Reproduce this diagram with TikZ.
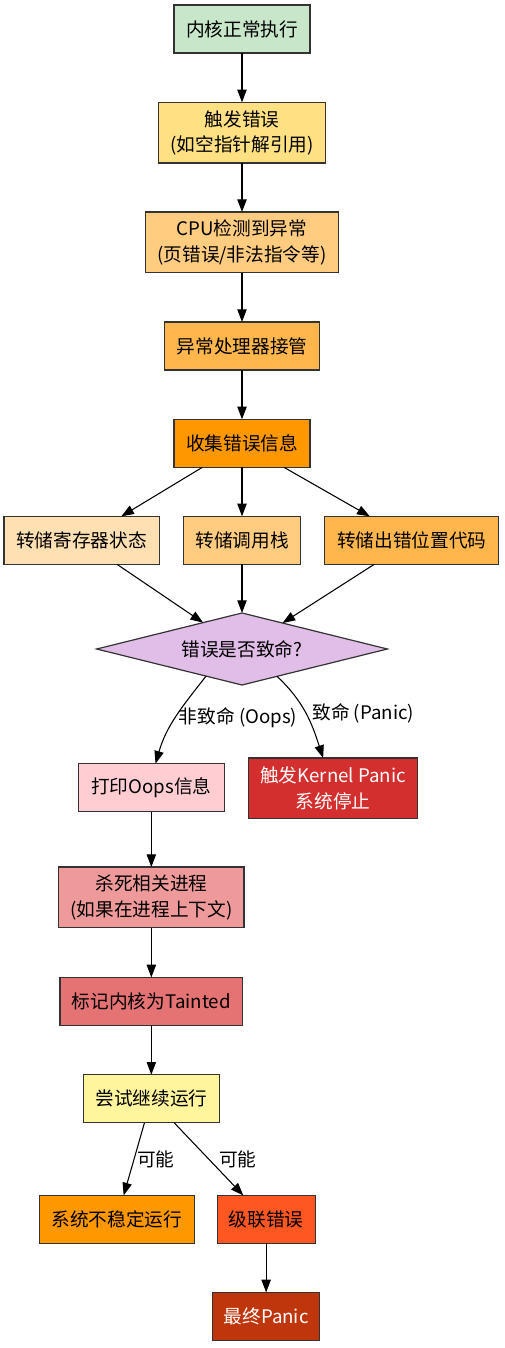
\documentclass[tikz,border=0pt]{standalone}
\usepackage{fontspec}
\setmainfont{Noto Sans CJK SC}
\usetikzlibrary{arrows.meta, positioning, shapes.geometric}

\definecolor{runok}{HTML}{C8E6C9}
\definecolor{faultc}{HTML}{FFE082}
\definecolor{cpuc}{HTML}{FFCC80}
\definecolor{handlerc}{HTML}{FFB74D}
\definecolor{collectc}{HTML}{FF9800}
\definecolor{regsc}{HTML}{FFE0B2}
\definecolor{fatalc}{HTML}{E1BEE7}
\definecolor{oopsc}{HTML}{FFCDD2}
\definecolor{panicc}{HTML}{D32F2F}
\definecolor{killc}{HTML}{EF9A9A}
\definecolor{taintc}{HTML}{E57373}
\definecolor{retryc}{HTML}{FFF59D}
\definecolor{cascadec}{HTML}{FF5722}
\definecolor{finalc}{HTML}{BF360C}

\begin{document}
\begin{tikzpicture}[
    >={Triangle[length=9.5pt, width=7pt]},
    font=\fontsize{14pt}{19pt}\selectfont,
    box/.style={draw=black!80, line width=0.9pt, minimum height=36pt,
                align=center, inner sep=2pt, outer sep=0pt},
    tall/.style={box, minimum height=45.5pt},
    decision/.style={diamond, draw=black!80, line width=0.9pt, fill=fatalc,
                     shape aspect=4, inner sep=0pt, outer sep=0pt,
                     minimum width=218pt, minimum height=54pt},
    lbl/.style={inner sep=1pt},
    arr/.style={->, line width=0.8pt}
  ]
  \useasboundingbox (0,0) rectangle (378pt,-1011pt);

  \node[box, fill=runok, minimum width=102pt] (run) at (181.5pt,-21.75pt)
    {内核正常执行};
  \node[tall, fill=faultc, minimum width=125pt, below=37pt of run] (fault)
    {触发错误\\(如空指针解引用)};
  \node[tall, fill=cpuc, minimum width=145pt, below=36.75pt of fault] (cpu)
    {CPU检测到异常\\(页错误/非法指令等)};
  \node[box, fill=handlerc, minimum width=116pt, below=37pt of cpu] (handler)
    {异常处理器接管};
  \node[box, fill=collectc, minimum width=102pt, below=37pt of handler] (collect)
    {收集错误信息};
  \node[box, fill=cpuc, minimum width=88pt, below=36.75pt of collect] (stack)
    {转储调用栈};
  \node[box, fill=regsc, minimum width=116.5pt, left=18pt of stack] (regs)
    {转储寄存器状态};
  \node[box, fill=handlerc, minimum width=130.5pt, right=18pt of stack] (code)
    {转储出错位置代码};
  \node[decision, below=36.5pt of stack] (fatal) {错误是否致命?};

  \node[box, fill=oopsc, minimum width=109.5pt, below=59pt of fatal,
        xshift=-68pt] (oops) {打印Oops信息};
  \node[tall, fill=panicc, text=white, minimum width=126.75pt,
        below=54.75pt of fatal, xshift=68.25pt] (panic)
    {触发Kernel Panic\\系统停止};
  \node[tall, fill=killc, minimum width=139pt, below=41.5pt of oops] (kill)
    {杀死相关进程\\(如果在进程上下文)};
  \node[box, fill=taintc, minimum width=137pt, below=37.3pt of kill] (taint)
    {标记内核为Tainted};
  \node[box, fill=retryc, minimum width=102pt, below=37pt of taint] (retry)
    {尝试继续运行};
  \node[box, fill=collectc, minimum width=116pt, below=54.5pt of retry,
        xshift=-25.9pt] (unstable) {系统不稳定运行};
  \node[box, fill=cascadec, minimum width=73.5pt, below=54.5pt of retry,
        xshift=86.1pt] (cascade) {级联错误};
  \node[box, fill=finalc, text=white, minimum width=80pt,
        below=36.75pt of cascade] (final) {最终Panic};

  \draw[arr] (run) -- (fault);
  \draw[arr] (fault) -- (cpu);
  \draw[arr] (cpu) -- (handler);
  \draw[arr] (handler) -- (collect);
  \draw[arr] (collect) -- (regs);
  \draw[arr] (collect) -- (stack);
  \draw[arr] (collect) -- (code);
  \draw[arr] (regs) -- (fatal);
  \draw[arr] (stack) -- (fatal);
  \draw[arr] (code) -- (fatal);
  \draw[arr] (fatal.217) to[out=232, in=74]
    node[lbl, pos=0.5, anchor=west, xshift=1pt] {非致命 (Oops)} (oops.80);
  \draw[arr] (fatal.322) to[out=317, in=108]
    node[lbl, pos=0.5, anchor=west, xshift=3.5pt] {致命 (Panic)} (panic.108);
  \draw[arr] (oops) -- (kill);
  \draw[arr] (kill) -- (taint);
  \draw[arr] (taint) -- (retry);
  \draw[arr] (retry) -- node[lbl, anchor=west, xshift=1pt] {可能} (unstable);
  \draw[arr] (retry) -- node[lbl, anchor=west, xshift=6.5pt] {可能} (cascade);
  \draw[arr] (cascade) -- (final);
\end{tikzpicture}
\end{document}
